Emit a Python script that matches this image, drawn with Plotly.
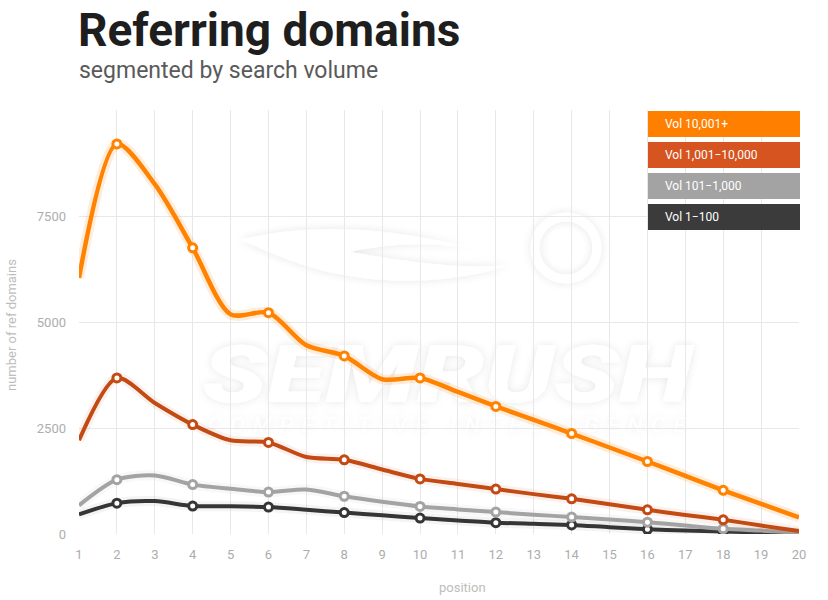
import base64
import plotly.graph_objects as go

# ---- data ----
positions = list(range(1, 21))
series_names = ["Vol 10,001+", "Vol 1,001\u221210,000", "Vol 101\u22121,000", "Vol 1\u2212100"]
vol_10001_plus = [6040, 9200, 8250, 6750, 5180, 5220, 4450, 4200, 3650, 3680,
                  3350, 3010, 2690, 2370, 2040, 1710, 1370, 1030, 710, 390]
vol_1001_10000 = [2210, 3680, 3090, 2580, 2210, 2160, 1815, 1750, 1520, 1300,
                  1180, 1060, 940, 830, 700, 570, 450, 335, 200, 70]
vol_101_1000 = [674, 1280, 1380, 1165, 1065, 990, 1050, 890, 760, 650,
                580, 516, 455, 400, 340, 280, 200, 125, 80, 30]
vol_1_100 = [461, 728, 776, 660, 655, 634, 572, 505, 440, 375,
             320, 268, 240, 215, 160, 110, 80, 60, 35, 10]
y_ticks = [0, 2500, 5000, 7500, 10000]
y_tick_text = ["0", "2500", "5000", "7500", ""]

series_values = [vol_10001_plus, vol_1001_10000, vol_101_1000, vol_1_100]
line_colors = ["#FF8200", "#C44A14", "#A3A3A3", "#353535"]
legend_colors = ["#FF8000", "#D5541F", "#A3A3A3", "#3B3B3B"]
line_widths = [4.5, 4, 4, 4]
glow_colors = ["rgba(255,130,0,0.14)", "rgba(196,74,20,0.08)",
               "rgba(120,120,120,0.05)", "rgba(40,40,40,0.05)"]

fig = go.Figure()

for name, vals, lc, lw, gc in reversed(list(zip(series_names, series_values, line_colors, line_widths, glow_colors))):
    fig.add_trace(go.Scatter(
        x=positions, y=vals, mode="lines",
        line=dict(color=gc, width=lw + 6, shape="spline", smoothing=0.8),
        hoverinfo="skip", showlegend=False))
    fig.add_trace(go.Scatter(
        x=positions, y=vals, mode="lines", name=name,
        line=dict(color=lc, width=lw, shape="spline", smoothing=0.8),
        showlegend=False))
    ex = [p for p in positions if p % 2 == 0 and p < 20]
    ey = [v for p, v in zip(positions, vals) if p % 2 == 0 and p < 20]
    fig.add_trace(go.Scatter(
        x=ex, y=ey, mode="markers",
        marker=dict(color="white", size=8, line=dict(color=lc, width=3)),
        showlegend=False, hoverinfo="skip"))

# ---- layout helpers ----
L, R, T, B = 79, 799, 110, 534
W, H = R - L, B - T
def px(x):
    return (x - L) / W
def py(y):
    return (B - y) / H

shapes = []
annotations = []
box_tops = [111, 142, 173, 204]
for name, col, top in zip(series_names, legend_colors, box_tops):
    shapes.append(dict(type="rect", xref="paper", yref="paper",
                       x0=px(648), x1=px(800), y0=py(top + 26), y1=py(top),
                       fillcolor=col, line=dict(width=0), layer="above"))
    annotations.append(dict(xref="paper", yref="paper", x=px(663), y=py(top + 13),
                            xanchor="left", yanchor="middle", showarrow=False,
                            text=name, font=dict(family="Roboto", size=12, color="white")))

annotations.append(dict(xref="paper", yref="paper", x=px(76), y=py(30),
                        xanchor="left", yanchor="middle", showarrow=False,
                        text="<b>Referring domains</b>",
                        font=dict(family="Roboto", size=46, color="#1E1E1E")))
annotations.append(dict(xref="paper", yref="paper", x=px(77), y=py(71),
                        xanchor="left", yanchor="middle", showarrow=False,
                        text="segmented by search volume",
                        font=dict(family="Roboto", size=23, color="#5A5A5A")))
annotations.append(dict(xref="paper", yref="paper", x=px(462), y=py(587),
                        xanchor="center", yanchor="middle", showarrow=False,
                        text="position",
                        font=dict(family="Roboto", size=13, color="#BDBDBD")))
annotations.append(dict(xref="paper", yref="paper", x=px(11), y=py(325),
                        xanchor="center", yanchor="middle", showarrow=False,
                        text="number of ref domains", textangle=-90,
                        font=dict(family="Roboto", size=13, color="#BDBDBD")))

# faint watermark (white with soft shadow), drawn beneath the data
svg = """<svg xmlns='http://www.w3.org/2000/svg' width='560' height='260' viewBox='0 0 560 260'>
<defs><filter id='s' x='-10%' y='-30%' width='120%' height='160%'>
<feGaussianBlur in='SourceAlpha' stdDeviation='5'/>
<feComponentTransfer><feFuncA type='linear' slope='0.10'/></feComponentTransfer>
<feMerge><feMergeNode/><feMergeNode in='SourceGraphic'/></feMerge></filter></defs>
<g filter='url(#s)' fill='white'>
<circle cx='386' cy='58' r='31' fill='none' stroke='white' stroke-width='9'/>
<path d='M60 50 C140 30 220 40 300 60 C250 50 200 55 170 62 C220 70 270 80 330 75 C270 95 200 95 140 80 C110 72 85 60 60 50 Z'/>
<text x='22' y='212' font-family='Roboto' font-weight='900' font-style='italic' font-size='80' textLength='490' lengthAdjust='spacingAndGlyphs'>SEMRUSH</text>
<text x='28' y='242' font-family='Roboto' font-style='italic' font-size='21' letter-spacing='9'>COMPETITIVE INTELLIGENCE</text>
</g></svg>"""
src = "data:image/svg+xml;base64," + base64.b64encode(svg.encode()).decode()

tick_font = dict(family="Roboto", size=13, color="#ADADAD")

fig.update_layout(
    width=828, height=600,
    margin=dict(l=L, r=828 - R, t=T, b=600 - B),
    paper_bgcolor="white", plot_bgcolor="white",
    shapes=shapes, annotations=annotations,
    images=[dict(source=src, xref="paper", yref="paper", x=px(180), y=py(190),
                 sizex=560 / W, sizey=260 / H, xanchor="left", yanchor="top",
                 sizing="stretch", layer="below")],
    showlegend=False,
    xaxis=dict(range=[1, 20], tickmode="array", tickvals=positions,
               ticktext=[str(p) for p in positions],
               showgrid=True, gridcolor="#E8E8E8", gridwidth=1,
               zeroline=False, showline=False, ticks="", ticklabelstandoff=11,
               tickfont=tick_font, fixedrange=True),
    yaxis=dict(range=[0, 10000], tickmode="array", tickvals=y_ticks,
               ticktext=y_tick_text,
               showgrid=True, gridcolor="#E8E8E8", gridwidth=1,
               zeroline=False, showline=False, ticks="", ticklabelstandoff=12,
               tickfont=tick_font, fixedrange=True),
)

fig.write_html("out.html")
